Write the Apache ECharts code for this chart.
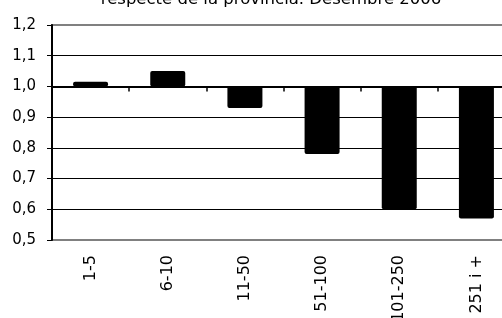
<!DOCTYPE html>
<html>
<head>
<meta charset="utf-8">
<script src="https://cdn.jsdelivr.net/npm/echarts@6/dist/echarts.min.js"></script>
<style>html,body{margin:0;padding:0;background:#fff;overflow:hidden}#c{width:502px;height:318px}</style>
</head>
<body>
<div id="c"></div>
<script>
const titleText = 'respecte de la provincia. Desembre 2006';
const categories = ['1-5', '6-10', '11-50', '51-100', '101-250', '251 i +'];
const values = [1.015, 1.05, 0.93, 0.78, 0.60, 0.57];
const baseline = 1.0;
const yMin = 0.5, yMax = 1.2, yStep = 0.1;

const chart = echarts.init(document.getElementById('c'), null, {renderer: 'canvas'});
const fmt = v => (Math.round((v + baseline) * 10) / 10).toFixed(1).replace('.', ',');
const FONT = 'DejaVu Sans';
chart.setOption({
  animation: false,
  backgroundColor: '#fff',
  title: {
    text: titleText,
    left: 266, top: -14, textAlign: 'center',
    textStyle: {fontFamily: FONT, fontSize: 16.5, fontWeight: 'normal', color: '#000'}
  },
  grid: {left: 52, width: 463, top: 25, height: 215, outerBoundsMode: 'none', containLabel: false,
         show: true, borderColor: '#808080', borderWidth: 2, backgroundColor: 'transparent'},
  xAxis: [{
    type: 'category', data: categories, position: 'bottom',
    axisLine: {show: true, onZero: true, lineStyle: {color: '#000', width: 2}},
    axisTick: {show: true, length: 5, lineStyle: {color: '#000', width: 1.5}},
    axisLabel: {show: false}, splitLine: {show: false}
  }, {
    type: 'category', data: categories, position: 'bottom',
    axisLine: {show: false, onZero: false}, axisTick: {show: false},
    axisLabel: {rotate: 90, margin: 15, fontFamily: FONT, fontSize: 16, color: '#000'}
  }],
  yAxis: {
    type: 'value', min: yMin - baseline, max: yMax - baseline, interval: yStep,
    axisLine: {show: true, lineStyle: {color: '#000', width: 2}},
    axisTick: {show: true, length: 5, lineStyle: {color: '#000', width: 1}},
    axisLabel: {formatter: fmt, margin: 16, fontFamily: FONT, fontSize: 15, color: '#000'},
    splitLine: {show: true, lineStyle: {color: ['#808080', '#000', '#000', '#000', '#000', '#000', '#000', '#808080'], width: 1}}
  },
  series: [{
    type: 'bar', xAxisIndex: 0,
    data: values.map(v => +(v - baseline).toFixed(4)),
    barWidth: 35,
    itemStyle: {color: '#000', borderRadius: 2}
  }]
});
</script>
</body>
</html>
